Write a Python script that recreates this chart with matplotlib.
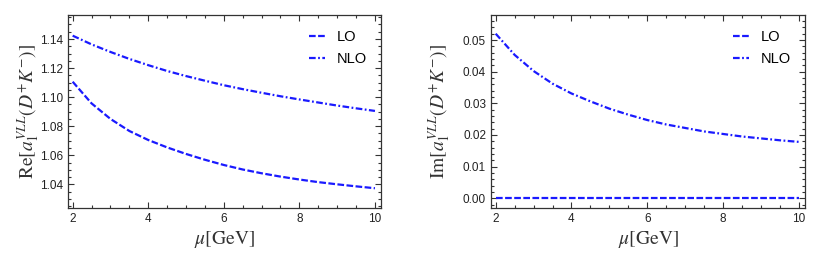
import numpy as np
import matplotlib.pyplot as plt
from matplotlib.ticker import MultipleLocator

plt.rcParams['mathtext.fontset'] = 'stix'
plt.rcParams['font.family'] = ['Liberation Sans', 'DejaVu Sans']

# 数据：mu 值与曲线值
mu = [2.0, 2.5, 3.0, 3.5, 4.0, 4.5, 5.0, 5.5, 6.0, 6.5, 7.0, 7.5, 8.0, 8.5, 9.0, 9.5, 10.0]
re_lo = [1.1106, 1.0957, 1.0850, 1.0767, 1.0705, 1.0654, 1.0609, 1.0569, 1.0533, 1.0502,
         1.0476, 1.0453, 1.0433, 1.0415, 1.0400, 1.0386, 1.0373]
re_nlo = [1.1423, 1.1363, 1.1311, 1.1263, 1.1220, 1.1180, 1.1145, 1.1113, 1.1082, 1.1055,
          1.1030, 1.1006, 1.0984, 1.0963, 1.0942, 1.0923, 1.0905]
im_lo = [0.0] * len(mu)
im_nlo = [0.0520, 0.0453, 0.0402, 0.0362, 0.0331, 0.0306, 0.0283, 0.0264, 0.0247, 0.0233,
          0.0222, 0.0211, 0.0203, 0.0195, 0.0189, 0.0183, 0.0178]

fig = plt.figure(figsize=(8.22, 2.68), dpi=100)
ax1 = fig.add_axes([0.0827, 0.2239, 0.3808, 0.720])
ax2 = fig.add_axes([0.5973, 0.2239, 0.3820, 0.720])

panels = [
    (ax1, re_lo, re_nlo, r'$\mathrm{Re}[a_1^{VLL}(D^{+}K^{-})]$', (1.0237, 1.1565), 0.02, 0.005, -0.085),
    (ax2, im_lo, im_nlo, r'$\mathrm{Im}[a_1^{VLL}(D^{+}K^{-})]$', (-0.0031, 0.0579), 0.01, 0.002, -0.123),
]

for ax, lo, nlo, ylab, ylim, major, minor, labx in panels:
    ax.plot(mu, lo, color='#1a1aff', linestyle=(0, (3, 1.1)), linewidth=1.6, label='LO')
    ax.plot(mu, nlo, color='#1a1aff', linestyle=(0, (3, 1.1, 0.8, 1.1)), linewidth=1.6, label='NLO')
    ax.set_xlim(1.876, 10.16)
    ax.set_ylim(*ylim)
    ax.xaxis.set_major_locator(MultipleLocator(2))
    ax.xaxis.set_minor_locator(MultipleLocator(0.5))
    ax.yaxis.set_major_locator(MultipleLocator(major))
    ax.yaxis.set_minor_locator(MultipleLocator(minor))
    ax.yaxis.set_major_formatter(plt.FormatStrFormatter('%.2f'))
    ax.tick_params(which='both', direction='in', top=True, right=True, colors='#333333',
                   labelcolor='#222222', labelsize=8.5, width=0.8)
    ax.tick_params(which='major', length=4)
    ax.tick_params(which='minor', length=2)
    for s in ax.spines.values():
        s.set_color('#333333')
        s.set_linewidth(0.9)
    ax.set_xlabel(r'$\mu[\mathrm{GeV}]$', fontsize=14, color='#333333', labelpad=3)
    ax.set_ylabel(ylab, fontsize=14, color='#333333')
    ax.yaxis.set_label_coords(labx, 0.5)
    ax.legend(loc='upper right', frameon=False, fontsize=10.5, handlelength=1.1,
              handletextpad=0.8, labelspacing=0.55, borderaxespad=0.6)

fig.savefig('out.png', dpi=100)
